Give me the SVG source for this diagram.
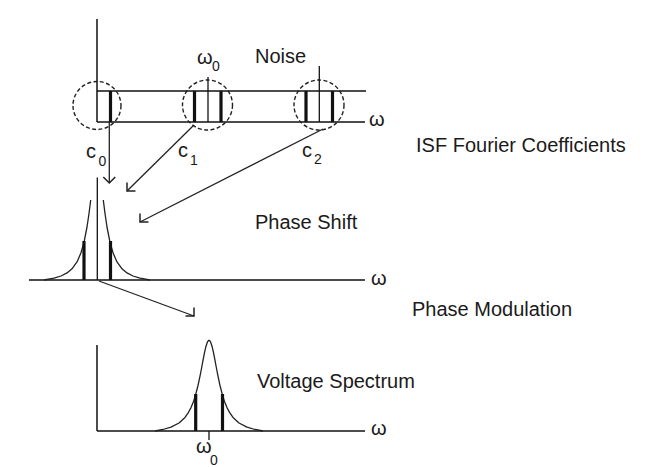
<svg xmlns="http://www.w3.org/2000/svg" width="649" height="467" viewBox="0 0 649 467">
<style>
  .ln{stroke:#111;stroke-width:1.5;fill:none}
  .thin{stroke:#111;stroke-width:1.3;fill:none}
  .bar{stroke:#111;stroke-width:3.2;fill:none}
  .dc{stroke:#222;stroke-width:1.4;fill:none;stroke-dasharray:4 2.4}
  .cv{stroke:#222;stroke-width:1.3;fill:none;stroke-linejoin:round}
  .t{font-family:"Liberation Sans",Arial,sans-serif;font-size:20px;fill:#1a1a1a}
  .s{font-family:"Liberation Sans",Arial,sans-serif;font-size:14px;fill:#1a1a1a}
  .arr{stroke:#222;stroke-width:1.3;fill:none}
  .head{stroke:#222;stroke-width:1.5;fill:none}
</style>
<defs>
  <marker id="ah-down" viewBox="-8 -8 10 16" refX="0" refY="0" markerWidth="10" markerHeight="16" markerUnits="userSpaceOnUse" orient="90">
    <path class="head" d="M-6,-6 L0,0 L-6,6"/>
  </marker>
  <marker id="ah-dl" viewBox="-8 -8 10 16" refX="0" refY="0" markerWidth="10" markerHeight="16" markerUnits="userSpaceOnUse" orient="135">
    <path class="head" d="M-6,-6 L0,0 L-6,6"/>
  </marker>
  <marker id="ah-dr" viewBox="-8 -8 10 16" refX="0" refY="0" markerWidth="10" markerHeight="16" markerUnits="userSpaceOnUse" orient="45">
    <path class="head" d="M-6,-6 L0,0 L-6,6"/>
  </marker>
</defs>
<rect width="649" height="467" fill="#fff"/>

<g id="isf-spectrum">
  <line class="ln" x1="97" y1="19" x2="97" y2="122"/>
  <line class="ln" x1="97" y1="91" x2="366" y2="91"/>
  <line class="ln" x1="97" y1="122" x2="365" y2="122"/>
  <circle class="dc" cx="97" cy="105.5" r="24"/>
  <circle class="dc" cx="207.5" cy="105" r="25"/>
  <circle class="dc" cx="319" cy="105" r="25"/>
  <line class="bar" x1="110.5" y1="91" x2="110.5" y2="122"/>
  <line class="bar" x1="194.5" y1="91" x2="194.5" y2="122"/>
  <line class="bar" x1="221" y1="91" x2="221" y2="122"/>
  <line class="thin" x1="208" y1="77" x2="208" y2="122"/>
  <line class="bar" x1="306" y1="91" x2="306" y2="122"/>
  <line class="bar" x1="332.5" y1="91" x2="332.5" y2="122"/>
  <line class="thin" x1="319.3" y1="66" x2="319.3" y2="122"/>
  <text class="t" x="369" y="126">ω</text>
  <text class="t" x="197" y="64">ω</text><text class="s" x="212" y="71">0</text>
</g>

<g id="phase-shift">
  <line class="ln" x1="29" y1="280" x2="365" y2="280"/>
  <line class="thin" x1="97.3" y1="177.5" x2="97.3" y2="280"/>
  <polyline class="cv" points="44,280 54,278.2 61,276 67,272.9 72,268.8 77,261.9 81,252.8 84,242.3 87,227 89,213.5 90.7,200"/>
  <polyline class="cv" points="103.3,200 105,213.5 107,227 110,242.3 113,252.8 117,261.9 122,268.8 127,272.9 133,276 140,278.2 150,280"/>
  <line class="bar" x1="84" y1="241" x2="84" y2="280"/>
  <line class="bar" x1="110.5" y1="241" x2="110.5" y2="280"/>
  <text class="t" x="371" y="285">ω</text>
</g>

<g id="voltage-spectrum">
  <line class="ln" x1="97" y1="345" x2="97" y2="431"/>
  <line class="ln" x1="97" y1="431" x2="365" y2="431"/>
  <polyline class="cv" points="155,431 163,429.5 171,427.2 179,423 185,417.4 188,413.2 191,407.6 193.5,401.4 195.5,395.2 198,385.5 200,376.2 201.5,368.5 203,360.4 204.5,352.7 206,346.2 207.5,341.7 209,340.1 210.5,341.7 212,346.2 213.5,352.7 215,360.4 216.5,368.5 218,376.2 220,385.5 222.5,395.2 224.5,401.4 227,407.6 230,413.2 233,417.4 239,423 247,427.2 255,429.5 263,431"/>
  <line class="bar" x1="195.7" y1="394" x2="195.7" y2="431"/>
  <line class="bar" x1="222.5" y1="394" x2="222.5" y2="431"/>
  <line class="thin" x1="209" y1="431" x2="209" y2="440"/>
  <text class="t" x="371" y="435">ω</text>
  <text class="t" x="196" y="453">ω</text><text class="s" x="210" y="465">0</text>
</g>

<g id="connectors">
  <line class="arr" x1="109.3" y1="122" x2="109.3" y2="183" marker-end="url(#ah-down)"/>
  <line class="arr" x1="193" y1="126" x2="127" y2="191" marker-end="url(#ah-dl)"/>
  <line class="arr" x1="323" y1="129" x2="140" y2="222" marker-end="url(#ah-dl)"/>
  <line class="arr" x1="99" y1="281" x2="194" y2="316" marker-end="url(#ah-dr)"/>
</g>

<g id="labels">
  <text class="t" x="255" y="63">Noise</text>
  <text class="t" x="416" y="152">ISF Fourier Coefficients</text>
  <text class="t" x="86" y="158">c</text><text class="s" x="98.5" y="166">0</text>
  <text class="t" x="178" y="157">c</text><text class="s" x="190" y="165">1</text>
  <text class="t" x="302" y="157">c</text><text class="s" x="314" y="164">2</text>
  <text class="t" x="255" y="229">Phase Shift</text>
  <text class="t" x="412" y="316">Phase Modulation</text>
  <text class="t" x="257" y="388">Voltage Spectrum</text>
</g>
</svg>
